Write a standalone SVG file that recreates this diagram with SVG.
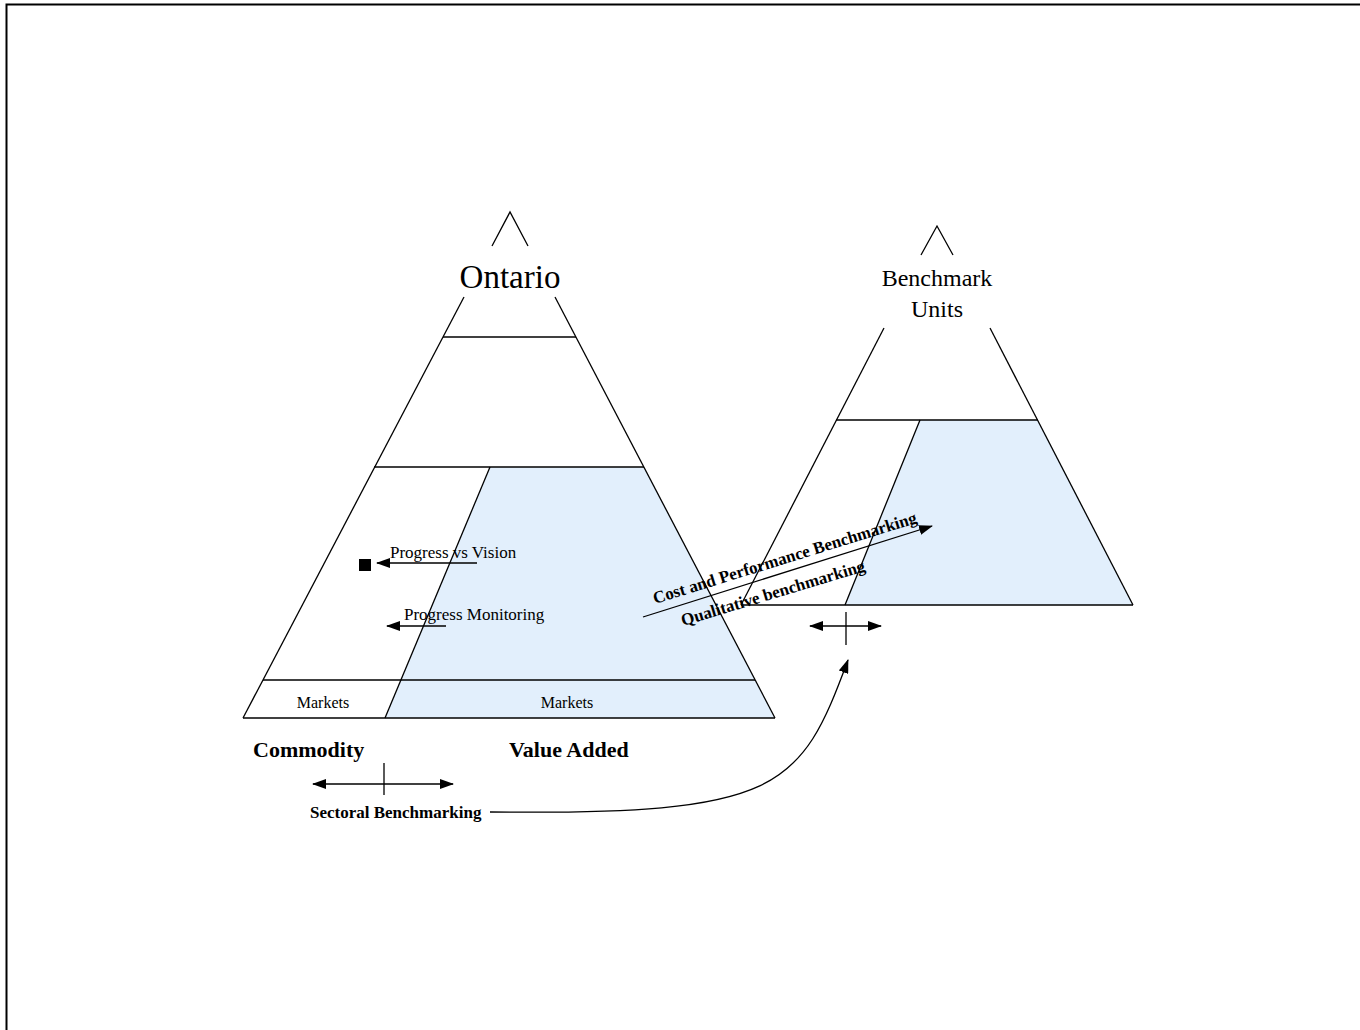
<svg xmlns="http://www.w3.org/2000/svg" width="1360" height="1030" viewBox="0 0 1360 1030">
  <style>
    .ln { stroke: #000; stroke-width: 1.3; fill: none; }
    .fill { fill: #e2effc; stroke: none; }
    .t { font-family: "Liberation Serif", "Times New Roman", serif; fill: #000; }
    .b { font-weight: bold; }
    .arr { stroke: #000; stroke-width: 1.3; fill: none; marker-end: url(#head); }
    .dbl { stroke: #000; stroke-width: 1.3; fill: none; marker-start: url(#headStart); marker-end: url(#head); }
  </style>
  <defs>
    <marker id="head" markerUnits="userSpaceOnUse" markerWidth="14" markerHeight="10" refX="13" refY="5" orient="auto">
      <path d="M0,0 L14,5 L0,10 Z" fill="#000"/>
    </marker>
    <marker id="headStart" markerUnits="userSpaceOnUse" markerWidth="14" markerHeight="10" refX="1" refY="5" orient="auto">
      <path d="M14,0 L0,5 L14,10 Z" fill="#000"/>
    </marker>
  </defs>

  <rect width="1360" height="1030" fill="#fff"/>
  <!-- page frame -->
  <rect x="6.5" y="4.5" width="1400" height="1100" fill="none" stroke="#000" stroke-width="2"/>

  <!-- Ontario pyramid -->
  <g id="ontario">
    <polygon class="fill" points="490,467 644,467 775,718 385,718"/>
    <polyline class="ln" points="492,246 510,212 528,246"/>
    <line class="ln" x1="464" y1="297" x2="243" y2="718"/>
    <line class="ln" x1="555" y1="297" x2="775" y2="718"/>
    <line class="ln" x1="443" y1="337" x2="576" y2="337"/>
    <line class="ln" x1="374" y1="467" x2="644" y2="467"/>
    <line class="ln" x1="263" y1="680" x2="755" y2="680"/>
    <line class="ln" x1="243" y1="718" x2="775" y2="718"/>
    <line class="ln" x1="490" y1="467" x2="385" y2="718"/>
    <text class="t" x="510" y="288" font-size="33" text-anchor="middle">Ontario</text>
    <text class="t" x="323" y="708" font-size="16" text-anchor="middle">Markets</text>
    <text class="t" x="567" y="708" font-size="16" text-anchor="middle">Markets</text>
  </g>

  <!-- Benchmark units pyramid -->
  <g id="benchmark-units">
    <polygon class="fill" points="920,420 1038,420 1133,605 845,605"/>
    <polyline class="ln" points="921,255 937,226 953,255"/>
    <line class="ln" x1="884" y1="328" x2="741" y2="605"/>
    <line class="ln" x1="990" y1="328" x2="1133" y2="605"/>
    <line class="ln" x1="836" y1="420" x2="1038" y2="420"/>
    <line class="ln" x1="741" y1="605" x2="1133" y2="605"/>
    <line class="ln" x1="920" y1="420" x2="845" y2="605"/>
    <text class="t" x="937" y="286" font-size="24" text-anchor="middle">Benchmark</text>
    <text class="t" x="937" y="317" font-size="24" text-anchor="middle">Units</text>
  </g>

  <!-- axis labels -->
  <g id="labels">
    <text class="t b" x="253" y="757" font-size="22">Commodity</text>
    <text class="t b" x="509" y="757" font-size="22">Value Added</text>
    <text class="t b" x="310" y="818" font-size="17">Sectoral Benchmarking</text>
  </g>

  <!-- progress markers -->
  <g id="progress-vision">
    <rect x="359" y="559" width="12" height="12" fill="#000"/>
    <text class="t" x="390" y="558" font-size="17">Progress vs Vision</text>
  </g>
  <g id="progress-monitoring">
    <text class="t" x="404" y="620" font-size="17">Progress Monitoring</text>
  </g>

  <!-- benchmarking labels along the diagonal arrow -->
  <g id="benchmarking-labels">
    <text class="t b" font-size="17" transform="translate(655,604) rotate(-17.2)">Cost and Performance Benchmarking</text>
    <text class="t b" font-size="17" transform="translate(683,626) rotate(-16.8)">Qualitative benchmarking</text>
  </g>

  <!-- connectors -->
  <g id="connectors">
    <line class="arr" x1="477" y1="563" x2="377" y2="563"/>
    <line class="arr" x1="446" y1="626" x2="387" y2="626"/>
    <line class="arr" x1="643" y1="617" x2="932" y2="526"/>
    <line class="dbl" x1="810" y1="626" x2="881" y2="626"/>
    <line class="ln" x1="846" y1="612" x2="846" y2="645"/>
    <line class="dbl" x1="313" y1="784" x2="453" y2="784"/>
    <line class="ln" x1="384" y1="763" x2="384" y2="795"/>
    <path class="arr" d="M490,812 C780,815 800,790 848,660"/>
  </g>
</svg>
